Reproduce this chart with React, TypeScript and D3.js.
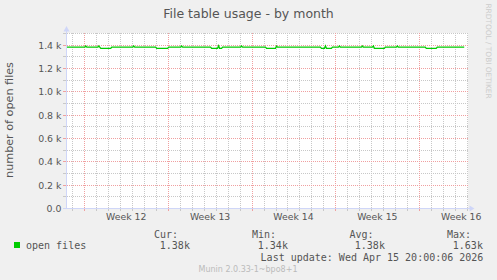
import React from "react";
import * as d3 from "d3";

// ---------- data ----------
const chartTitle = "File table usage - by month";
const yAxisTitle = "number of open files";

const sampleTimes = [
  "2026-03-14T12:00Z", "2026-03-16T00:00Z", "2026-03-16T02:00Z", "2026-03-16T04:00Z",
  "2026-03-17T02:00Z", "2026-03-17T04:00Z", "2026-03-17T06:00Z", "2026-03-17T08:00Z",
  "2026-03-18T04:00Z", "2026-03-18T06:00Z", "2026-03-20T00:00Z", "2026-03-20T02:00Z",
  "2026-03-20T04:00Z", "2026-03-21T22:00Z", "2026-03-22T00:00Z", "2026-03-22T22:00Z",
  "2026-03-23T00:00Z", "2026-03-24T00:00Z", "2026-03-24T02:00Z", "2026-03-24T04:00Z",
  "2026-03-26T12:00Z", "2026-03-26T14:00Z", "2026-03-27T02:00Z", "2026-03-27T04:00Z",
  "2026-03-27T06:00Z", "2026-03-27T10:00Z", "2026-03-27T12:00Z", "2026-03-29T00:00Z",
  "2026-03-29T02:00Z", "2026-03-29T04:00Z", "2026-03-31T02:00Z", "2026-03-31T04:00Z",
  "2026-03-31T22:00Z", "2026-04-01T00:00Z", "2026-04-01T02:00Z", "2026-04-04T16:00Z",
  "2026-04-04T18:00Z", "2026-04-05T00:00Z", "2026-04-05T02:00Z", "2026-04-05T04:00Z",
  "2026-04-05T14:00Z", "2026-04-05T16:00Z", "2026-04-06T04:00Z", "2026-04-06T06:00Z",
  "2026-04-06T08:00Z", "2026-04-08T02:00Z", "2026-04-08T04:00Z", "2026-04-08T06:00Z",
  "2026-04-09T00:00Z", "2026-04-09T02:00Z", "2026-04-09T04:00Z", "2026-04-10T00:00Z",
  "2026-04-10T02:00Z", "2026-04-11T00:00Z", "2026-04-11T02:00Z", "2026-04-11T04:00Z",
  "2026-04-13T10:00Z", "2026-04-13T12:00Z", "2026-04-14T08:00Z", "2026-04-14T10:00Z",
  "2026-04-16T16:00Z",
];
const openFiles = [
  1383, 1383, 1393, 1383,
  1383, 1393, 1383, 1373,
  1373, 1383, 1383, 1393,
  1383, 1383, 1373, 1373,
  1383, 1383, 1393, 1383,
  1383, 1373, 1373, 1395,
  1373, 1373, 1383, 1383,
  1393, 1383, 1383, 1373,
  1373, 1392, 1383, 1383,
  1373, 1373, 1394, 1373,
  1373, 1383, 1383, 1393,
  1383, 1383, 1393, 1383,
  1383, 1393, 1373, 1373,
  1383, 1383, 1393, 1383,
  1383, 1373, 1373, 1383,
  1383,
];

const yMinorTicks = [0, 100, 200, 300, 400, 500, 600, 700, 800, 900, 1000, 1100, 1200, 1300, 1400, 1500];
const yMajorTicks = [0, 200, 400, 600, 800, 1000, 1200, 1400];
const yTickLabels = ["0.0", "0.2 k", "0.4 k", "0.6 k", "0.8 k", "1.0 k", "1.2 k", "1.4 k"];

const weekStarts = [
  "2026-03-15T23:00Z", "2026-03-22T23:00Z", "2026-03-29T22:00Z", "2026-04-05T22:00Z", "2026-04-12T22:00Z",
];
const weekLabels = ["Week 12", "Week 13", "Week 14", "Week 15", "Week 16"];

const legendName = "open files";
const statHeaders = ["Cur:", "Min:", "Avg:", "Max:"];
const statValues = ["1.38k", "1.34k", "1.38k", "1.63k"];
const lastUpdate = "Last update: Wed Apr 15 20:00:06 2026";
const versionText = "Munin 2.0.33-1~bpo8+1";
const watermark = "RRDTOOL / TOBI OETIKER";

// ---------- layout ----------
const W = 497;
const H = 280;
const PL = 67;
const PR = 468;
const PT = 33;
const PB = 208;

const FONT = "'DejaVu Sans', sans-serif";
const MONO = "'DejaVu Sans Mono', monospace";
const TXT = "#555555";
const AXIS = "#cfd6f8";
const GRID = "#c8c8c8";
const MGRID = "#f0a0a0";
const LINE = "#00cc00";

export default function App() {
  const x = d3
    .scaleUtc()
    .domain([new Date("2026-03-14T12:21Z"), new Date("2026-04-16T23:33Z")])
    .range([PL, PR]);
  const y = d3.scaleLinear().domain([0, 1500]).range([PB + 0.5, PT + 0.5]);

  const data = sampleTimes.map((t, i) => ({ t: new Date(t), v: openFiles[i] }));
  const line = d3
    .line<{ t: Date; v: number }>()
    .x((d) => x(d.t))
    .y((d) => y(d.v));

  // local (CET/CEST) midnights as grid positions
  const dstSwitch = new Date("2026-03-29T01:00Z").getTime();
  const dayTicks: Date[] = [];
  for (let i = 0; i < 34; i++) {
    let t = new Date("2026-03-14T23:00Z").getTime() + i * 86400000;
    if (t > dstSwitch) t -= 3600000;
    dayTicks.push(new Date(t));
  }
  const weekDates = weekStarts.map((s) => new Date(s));
  const weekTimes = new Set(weekDates.map((d) => d.getTime()));

  const gx = (d: Date) => Math.round(x(d)) + 0.5;
  const gy = (v: number) => Math.floor(y(v)) + 0.5;

  const statX = [154, 252, 349.5, 447];
  const valX = [159.8, 257.8, 354.8, 452.8];

  return (
    <div style={{ position: "fixed", left: 0, top: 0 }}>
      <svg width={W} height={H} style={{ display: "block" }}>
        <rect x={0} y={0} width={W} height={H} fill="#f0f0f0" />
        <rect x={PL} y={PT} width={PR - PL} height={PB - PT + 1} fill="#ffffff" />

        {/* minor grid */}
        {yMinorTicks
          .filter((v) => !yMajorTicks.includes(v))
          .map((v) => (
            <line key={"hm" + v} x1={PL} x2={PR} y1={gy(v)} y2={gy(v)} stroke={GRID} strokeWidth={1} strokeDasharray="1,1" />
          ))}
        {dayTicks
          .filter((d) => !weekTimes.has(d.getTime()) && x(d) > PL && x(d) < PR)
          .map((d) => (
            <line key={"vm" + d.getTime()} x1={gx(d)} x2={gx(d)} y1={PT} y2={PB} stroke={GRID} strokeWidth={1} strokeDasharray="1,1" />
          ))}
        {/* major grid */}
        {yMajorTicks
          .filter((v) => v > 0)
          .map((v) => (
            <line key={"hM" + v} x1={PL} x2={PR} y1={gy(v)} y2={gy(v)} stroke={MGRID} strokeWidth={1} strokeDasharray="1,1" />
          ))}
        {weekDates.map((d) => (
          <line key={"vM" + d.getTime()} x1={gx(d)} x2={gx(d)} y1={PT} y2={PB} stroke={MGRID} strokeWidth={1} strokeDasharray="1,1" />
        ))}

        {/* y tick marks */}
        {yMinorTicks.map((v) => (
          <line
            key={"yt" + v}
            x1={63}
            x2={66}
            y1={gy(v)}
            y2={gy(v)}
            stroke={yMajorTicks.includes(v) ? MGRID : GRID}
            strokeWidth={1}
          />
        ))}
        {/* x tick marks */}
        {dayTicks
          .filter((d) => x(d) > PL && x(d) < PR)
          .map((d) => (
            <line
              key={"xt" + d.getTime()}
              x1={gx(d)}
              x2={gx(d)}
              y1={PB + 1}
              y2={PB + 3}
              stroke={weekTimes.has(d.getTime()) ? MGRID : GRID}
              strokeWidth={1}
            />
          ))}

        {/* data line */}
        <path d={line(data) || ""} fill="none" stroke={LINE} strokeWidth={1.3} />

        {/* axes */}
        <line x1={66.5} x2={66.5} y1={PB + 1} y2={28} stroke={AXIS} strokeWidth={1} />
        <path d="M63.5,31.5 L69.5,31.5 L66.5,26 Z" fill={AXIS} />
        <line x1={63} x2={470} y1={PB + 0.5} y2={PB + 0.5} stroke={AXIS} strokeWidth={1} />
        <path d="M469.5,205.5 L469.5,211.5 L474.5,208.5 Z" fill={AXIS} />

        {/* y labels */}
        {yMajorTicks.map((v, i) => (
          <text key={"yl" + v} x={61.5} y={gy(v) + 3.5} textAnchor="end" fontFamily={FONT} fontSize={9.4} fill={TXT}>
            {yTickLabels[i]}
          </text>
        ))}
        {/* week labels */}
        {weekDates.map((d, i) => (
          <text
            key={"wl" + i}
            x={x(new Date(d.getTime() + 84 * 3600000))}
            y={220}
            textAnchor="middle"
            fontFamily={FONT}
            fontSize={9.3}
            fill={TXT}
          >
            {weekLabels[i]}
          </text>
        ))}

        {/* title */}
        <text x={248.5} y={17.5} textAnchor="middle" fontFamily={FONT} fontSize={12.5} fill={TXT}>
          {chartTitle}
        </text>
        <text
          transform="translate(13,120) rotate(-90)"
          textAnchor="middle"
          fontFamily={FONT}
          fontSize={11.2}
          fill={TXT}
        >
          {yAxisTitle}
        </text>

        {/* legend */}
        {statHeaders.map((s, i) => (
          <text key={"sh" + i} x={statX[i]} y={237.5} fontFamily={MONO} fontSize={10} fill={TXT}>
            {s}
          </text>
        ))}
        <rect x={14} y={242} width={6} height={6} fill={LINE} />
        <text x={26} y={249} fontFamily={MONO} fontSize={10} fill={TXT}>
          {legendName}
        </text>
        {statValues.map((s, i) => (
          <text key={"sv" + i} x={valX[i]} y={249} fontFamily={MONO} fontSize={10} fill={TXT}>
            {s}
          </text>
        ))}
        <text x={260.6} y={260.5} fontFamily={MONO} fontSize={10} fill={TXT}>
          {lastUpdate}
        </text>
        <text x={248} y={271.5} textAnchor="middle" fontFamily={FONT} fontSize={8} fill="#bbbbbb">
          {versionText}
        </text>

        {/* watermark */}
        <text
          transform="translate(486,51) rotate(90)"
          textAnchor="middle"
          fontFamily={FONT}
          fontSize={7.4}
          fill="#cccccc"
        >
          {watermark}
        </text>
      </svg>
    </div>
  );
}
